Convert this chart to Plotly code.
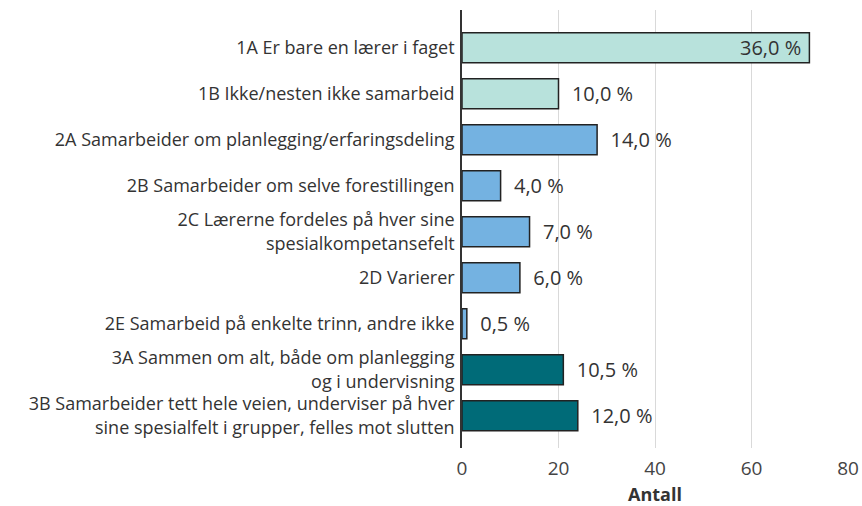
import plotly.graph_objects as go

categories = [
    "1A Er bare en lærer i faget",
    "1B Ikke/nesten ikke samarbeid",
    "2A Samarbeider om planlegging/erfaringsdeling",
    "2B Samarbeider om selve forestillingen",
    "2C Lærerne fordeles på hver sine<br>spesialkompetansefelt",
    "2D Varierer",
    "2E Samarbeid på enkelte trinn, andre ikke",
    "3A Sammen om alt, både om planlegging<br>og i undervisning",
    "3B Samarbeider tett hele veien, underviser på hver<br>sine spesialfelt i grupper, felles mot slutten",
]
counts = [72, 20, 28, 8, 14, 12, 1, 21, 24]
percent_labels = ["36,0 %", "10,0 %", "14,0 %", "4,0 %", "7,0 %", "6,0 %", "0,5 %", "10,5 %", "12,0 %"]
groups = ["1", "1", "2", "2", "2", "2", "2", "3", "3"]

group_colors = {"1": "#b8e2dc", "2": "#74b2e1", "3": "#006b78"}
colors = [group_colors[g] for g in groups]
positions = ["inside" if c > 60 else "outside" for c in counts]
texts = [(t + "\u00a0") if p == "inside" else ("\u00a0\u00a0" + t) for t, p in zip(percent_labels, positions)]

fig = go.Figure(go.Bar(
    y=list(range(len(categories))),
    x=counts,
    orientation="h",
    marker=dict(color=colors, line=dict(color="#222222", width=1.5)),
    width=0.65,
    text=texts,
    textposition=positions,
    insidetextanchor="end",
    constraintext="none",
    textfont=dict(size=20, color="#333333"),
    insidetextfont=dict(size=20, color="#333333"),
    outsidetextfont=dict(size=20, color="#333333"),
    cliponaxis=False,
    hoverinfo="skip",
))

fig.update_layout(
    width=862, height=506,
    margin=dict(l=462, r=14, t=10, b=58),
    paper_bgcolor="white", plot_bgcolor="white",
    font=dict(family="Open Sans", size=18, color="#333333"),
    showlegend=False,
    uniformtext=dict(mode=False),
)
fig.update_xaxes(
    range=[0, 80], tickvals=[0, 20, 40, 60, 80],
    showgrid=True, gridcolor="#d9d9d9", gridwidth=1,
    zeroline=False, showline=False, automargin=False,
    ticks="outside", ticklen=3, tickcolor="rgba(0,0,0,0)",
    tickfont=dict(size=19, color="#444444"),
    title=dict(text="<b>Antall</b>", font=dict(size=18, color="#333333"), standoff=16),
)
fig.update_yaxes(
    range=[8.7, -0.82],
    tickvals=list(range(len(categories))), ticktext=categories,
    showgrid=False, zeroline=False, automargin=False,
    showline=True, linecolor="#333333", linewidth=1.5,
    ticks="", ticklabelstandoff=2,
    tickfont=dict(size=18, color="#333333"),
)

fig.write_html("out.html", config={"displayModeBar": False},
               post_script="document.body.style.margin='0';")
